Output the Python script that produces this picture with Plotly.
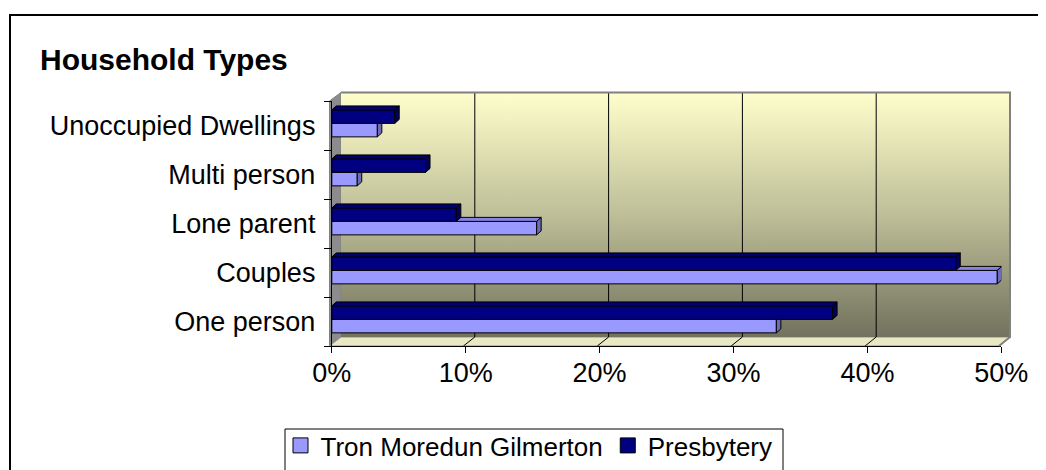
import plotly.graph_objects as go

# ---------------- data ----------------
categories = ["One person", "Couples", "Lone parent", "Multi person", "Unoccupied Dwellings"]
tron = [33.2, 49.7, 15.3, 1.9, 3.4]          # Tron Moredun Gilmerton (%)
presbytery = [37.4, 46.6, 9.3, 7.0, 4.7]     # Presbytery (%)
series_names = ["Tron Moredun Gilmerton", "Presbytery"]
x_ticks = [0, 10, 20, 30, 40, 50]
x_tick_text = ["0%", "10%", "20%", "30%", "40%", "50%"]
title_text = "Household Types"

# ---------------- geometry helpers (screen pixels -> paper) ----------------
# the page body has an 8px margin, so the figure is shrunk by that amount
OFF = 8
W, H = 1046 - OFF, 470 - OFF


def X(p):
    return (p - OFF) / W


def Y(p):
    return 1 - (p - OFF) / H


FONT = "Liberation Sans, Arial, sans-serif"
TRON_C, TRON_TOP, TRON_SIDE = "#9999FF", "#8585E0", "#6B6BB8"
PRES_C, PRES_TOP, PRES_SIDE = "#000080", "#00006E", "#000058"

front_left, front_top, front_bottom, front_right = 329.5, 101, 346, 999
back_left, back_right, back_top, back_bottom = 341, 1010, 92.5, 337
bar_x0, bar_x50 = 331.8, 1001.3

XMAX = x_ticks[-1]
px_per_unit_x = (bar_x50 - bar_x0) / XMAX
px_per_unit_y = (front_bottom - front_top) / len(categories)
DX = 4.5 / px_per_unit_x
DY = 4.0 / px_per_unit_y
BAR_W = 0.275
TRON_OFF = -0.232
PRES_OFF = TRON_OFF + BAR_W

pos = list(range(len(categories)))

fig = go.Figure()

# ---------------- back wall (subplot xy) ----------------
fig.add_trace(go.Scatter(
    x=[0, XMAX, XMAX, 0, 0], y=[0, 0, 1, 1, 0], mode="lines", fill="toself",
    line=dict(width=0, color="rgba(0,0,0,0)"),
    fillgradient=dict(type="vertical",
                      colorscale=[[0, "rgb(114,114,94)"], [0.5, "rgb(190,190,152)"], [1, "rgb(255,255,204)"]]),
    hoverinfo="skip", showlegend=False, xaxis="x", yaxis="y"))
gx, gy = [], []
for t in x_ticks[1:-1]:
    gx += [t, t, None]
    gy += [0, 1, None]
fig.add_trace(go.Scatter(x=gx, y=gy, mode="lines", line=dict(color="black", width=1),
                         hoverinfo="skip", showlegend=False, xaxis="x", yaxis="y"))

# ---------------- bars (subplot x2y2) ----------------
fig.add_trace(go.Bar(
    orientation="h", y=pos, x=tron, offset=TRON_OFF, width=BAR_W, name=series_names[0],
    marker=dict(color=TRON_C, line=dict(color="black", width=1)),
    showlegend=False, xaxis="x2", yaxis="y2"))
fig.add_trace(go.Bar(
    orientation="h", y=pos, x=presbytery, offset=PRES_OFF, width=BAR_W, name=series_names[1],
    marker=dict(color=PRES_C, line=dict(color="black", width=1)),
    showlegend=False, xaxis="x2", yaxis="y2"))

# 3D faces computed from the data
tt_x, tt_y, ts_x, ts_y = [], [], [], []
pt_x, pt_y, ps_x, ps_y = [], [], [], []
for i, vt, vp in zip(pos, tron, presbytery):
    y0 = i + TRON_OFF
    y1 = y0 + BAR_W
    if vt > vp:
        tt_x += [vp, vt, vt + DX, vp, vp, None]
        tt_y += [y1, y1, y1 + DY, y1 + DY, y1, None]
        ts_x += [vt, vt, vt + DX, vt + DX, vt, None]
        ts_y += [y0, y1, y1 + DY, y0 + DY, y0, None]
    else:
        ts_x += [vt, vt, vt + DX, vt + DX, vt, None]
        ts_y += [y0, y1, y1, y0 + DY, y0, None]
    q0 = i + PRES_OFF
    q1 = q0 + BAR_W
    pt_x += [0, vp, vp + DX, DX, 0, None]
    pt_y += [q1, q1, q1 + DY, q1 + DY, q1, None]
    ps_x += [vp, vp, vp + DX, vp + DX, vp, None]
    ps_y += [q0, q1, q1 + DY, q0 + DY, q0, None]

for fx, fy, col in [(tt_x, tt_y, TRON_TOP), (ts_x, ts_y, TRON_SIDE),
                    (pt_x, pt_y, PRES_TOP), (ps_x, ps_y, PRES_SIDE)]:
    fig.add_trace(go.Scatter(x=fx, y=fy, mode="lines", fill="toself", fillcolor=col,
                             line=dict(color="black", width=1), hoverinfo="skip",
                             showlegend=False, xaxis="x2", yaxis="y2"))

for nm, col in zip(series_names, [TRON_C, PRES_C]):
    fig.add_trace(go.Scatter(x=[None], y=[None], mode="markers", name=nm,
                             marker=dict(symbol="square", size=15, color=col,
                                         line=dict(color="black", width=1)),
                             xaxis="x2", yaxis="y2"))


def path(points):
    return "M " + " L ".join(f"{X(a):.5f},{Y(b):.5f}" for a, b in points) + " Z"


shapes = [
    dict(type="path", xref="paper", yref="paper", layer="below",
         path=path([(front_left, front_top), (back_left, back_top), (back_left, back_bottom), (front_left, front_bottom)]),
         fillcolor="#8C8C8C", line=dict(color="#808080", width=1)),
    dict(type="path", xref="paper", yref="paper", layer="below",
         path=path([(front_left, front_bottom), (back_left, back_bottom), (back_right, back_bottom), (front_right, front_bottom)]),
         fillcolor="#E8E8C4", line=dict(color="#909090", width=1)),
    dict(type="path", xref="paper", yref="paper", layer="above",
         path=f"M {X(back_left)},{Y(back_top)} L {X(back_right)},{Y(back_top)} L {X(back_right)},{Y(back_bottom)} L {X(front_right)},{Y(front_bottom)}",
         line=dict(color="#808080", width=2)),
    # chart border (top + left, continues past the picture edges)
    dict(type="rect", xref="paper", yref="paper", x0=X(10), y0=Y(15), x1=1.05, y1=-0.05,
         line=dict(color="black", width=2), fillcolor="rgba(0,0,0,0)"),
    # legend box
    dict(type="rect", xref="paper", yref="paper", x0=X(285), y0=Y(429), x1=X(783), y1=-0.05,
         line=dict(color="black", width=1), fillcolor="white", layer="below"),
]
for t in x_ticks[1:-1]:
    fx = front_left + t * (front_right - front_left) / XMAX
    bx = back_left + t * (back_right - back_left) / XMAX
    shapes.append(dict(type="line", xref="paper", yref="paper", layer="above",
                       x0=X(fx), y0=Y(front_bottom), x1=X(bx), y1=Y(back_bottom),
                       line=dict(color="black", width=1)))

fig.update_layout(
    width=W, height=H,
    margin=dict(l=0, r=0, t=0, b=0, pad=0, autoexpand=False),
    paper_bgcolor="white", plot_bgcolor="rgba(0,0,0,0)",
    barmode="overlay",
    font=dict(family=FONT, size=27, color="black"),
    shapes=shapes,
    hovermode=False,
    xaxis=dict(domain=[X(back_left), X(back_right)], range=[0, XMAX], visible=False, anchor="y",
               automargin=False),
    yaxis=dict(domain=[Y(back_bottom), Y(back_top)], range=[0, 1], visible=False, anchor="x",
               automargin=False),
    xaxis2=dict(domain=[X(bar_x0), X(bar_x50)], range=[0, XMAX], anchor="y2", automargin=False,
                tickvals=x_ticks, ticktext=x_tick_text, ticks="outside", ticklen=6,
                ticklabelstandoff=-3,
                tickcolor="black", showline=True, linecolor="black", linewidth=1,
                showgrid=False, zeroline=False, tickfont=dict(size=27, family=FONT)),
    yaxis2=dict(domain=[Y(front_bottom), Y(front_top)], range=[-0.5, len(categories) - 0.5], anchor="x2",
                automargin=False,
                tickvals=pos, ticktext=categories, ticks="outside", ticklen=10,
                tickcolor="rgba(0,0,0,0)", showline=True, linecolor="black", linewidth=1,
                showgrid=False, zeroline=False, tickfont=dict(size=27, family=FONT),
                minor=dict(tick0=0.5, dtick=1, ticks="outside", ticklen=7, tickcolor="black", showgrid=False)),
    legend=dict(orientation="h", x=X(280.5), xanchor="left", y=Y(422), yanchor="top",
                borderwidth=0, bgcolor="rgba(0,0,0,0)",
                font=dict(size=26, family=FONT)),
    annotations=[dict(text=f"<b>{title_text}</b>", xref="paper", yref="paper",
                      x=X(38), y=Y(60), xanchor="left", yanchor="middle", showarrow=False,
                      font=dict(size=30, family=FONT, color="black"))],
)

fig.write_html("out.html")
